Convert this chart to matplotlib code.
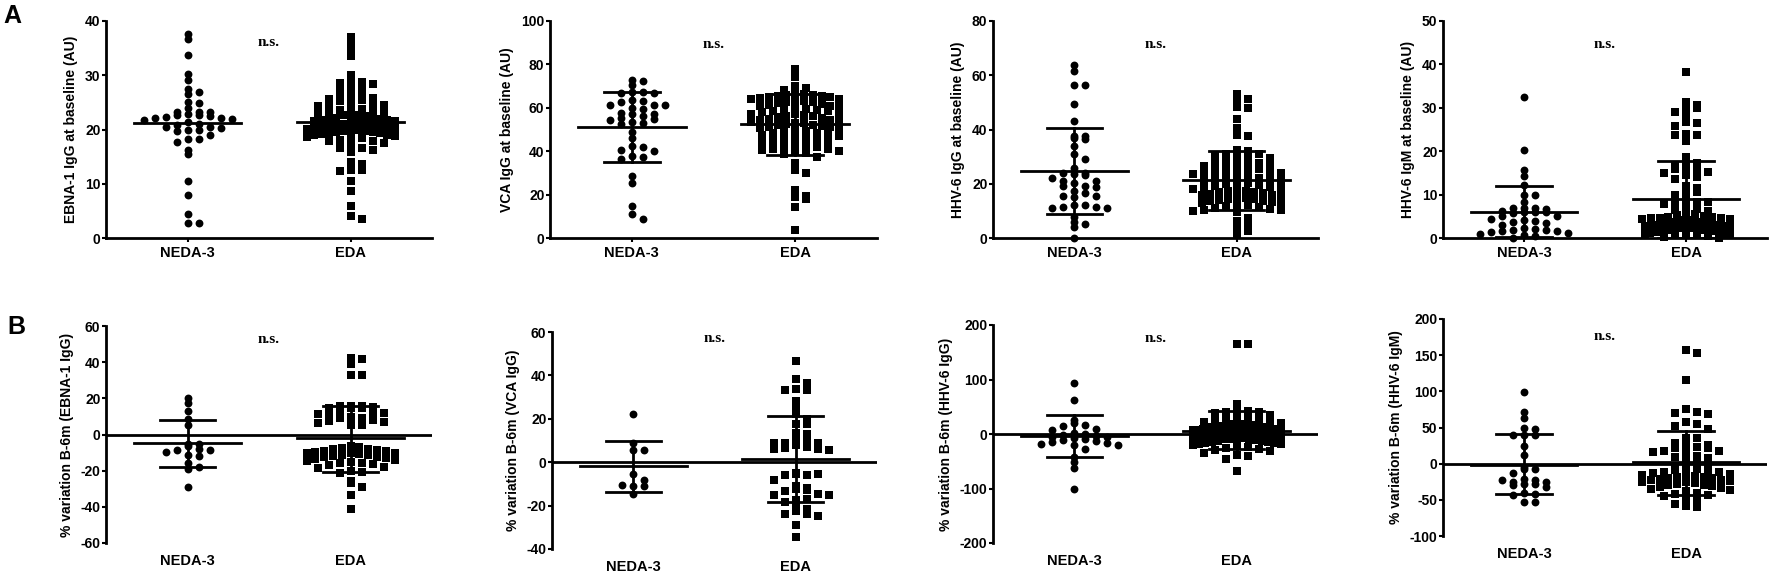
import matplotlib
matplotlib.use("Agg")
import matplotlib.pyplot as plt

plt.rcParams["font.family"] = ["Liberation Sans", "DejaVu Sans"]
plt.rcParams["font.weight"] = "bold"
plt.rcParams["axes.unicode_minus"] = False

groups = ["NEDA-3", "EDA"]

# ---- row A: baseline values ----
a1_neda = [37.6, 36.6, 33.7, 30.3, 29.2, 27.4, 27.0, 26.5, 25.0, 24.8, 23.9, 23.3, 23.3, 23.2,
           22.8, 22.6, 22.6, 22.4, 22.3, 22.2, 22.1, 21.9, 21.8, 21.3, 21.1, 20.8, 20.5, 20.4,
           20.2, 20.0, 19.9, 19.8, 18.9, 18.2, 18.2, 17.7, 16.3, 15.5, 10.5, 8.0, 4.4, 2.8, 2.7]
a1_eda = [37.0, 36.3, 34.9, 33.6, 30.0, 29.3, 28.8, 28.5, 28.4, 27.9, 27.3, 27.1, 26.9, 26.5,
          26.0, 25.8, 25.7, 25.5, 25.4, 25.2, 24.8, 24.6, 24.5, 24.3, 24.0, 23.7, 23.6, 23.4,
          23.3, 23.0, 22.9, 22.7, 22.6, 22.6, 22.4, 22.2, 22.1, 22.0, 21.9, 21.8, 21.8, 21.6,
          21.5, 21.4, 21.2, 21.1, 21.0, 20.9, 20.8, 20.7, 20.6, 20.5, 20.4, 20.3, 20.2, 20.1,
          20.0, 19.9, 19.8, 19.7, 19.6, 19.5, 19.4, 19.3, 19.1, 19.0, 18.9, 18.8, 18.7, 18.5,
          18.4, 18.1, 17.9, 17.8, 17.6, 17.2, 16.6, 16.5, 16.3, 15.8, 14.1, 13.7, 12.6, 12.5,
          12.4, 10.5, 8.6, 5.9, 4.0, 3.5]
a2_neda = [72.8, 72.3, 70.5, 67.3, 67.2, 67.0, 66.8, 63.7, 63.2, 62.8, 61.5, 61.5, 61.2, 59.8,
           59.5, 57.5, 57.2, 57.0, 56.0, 55.2, 55.0, 54.5, 53.3, 53.1, 52.6, 48.8, 46.0, 42.5,
           42.0, 40.7, 39.9, 37.6, 37.3, 36.6, 28.8, 25.5, 14.8, 11.0, 8.7]
a2_eda = [77.8, 74.5, 74.3, 70.0, 69.0, 68.0, 67.0, 66.5, 66.0, 65.8, 65.5, 65.3, 65.0, 64.8,
          64.5, 64.2, 64.0, 63.5, 63.0, 62.8, 62.5, 62.0, 61.8, 61.5, 61.0, 60.8, 60.5, 60.0,
          59.6, 59.2, 58.8, 58.5, 58.3, 58.0, 57.6, 57.3, 57.0, 56.5, 56.2, 56.0, 55.6, 55.2,
          55.0, 54.6, 54.2, 54.0, 53.6, 53.2, 53.0, 52.5, 52.2, 52.0, 51.5, 51.2, 51.0, 50.5,
          50.2, 50.0, 49.5, 49.0, 48.6, 48.2, 47.8, 47.5, 47.0, 46.5, 46.2, 45.8, 45.2, 44.8,
          44.2, 43.8, 43.2, 42.8, 42.3, 41.8, 41.2, 40.8, 40.5, 40.0, 39.5, 39.0, 38.5, 37.5,
          34.5, 31.5, 30.0, 22.0, 19.2, 18.8, 18.2, 14.5, 3.8]
a3_neda = [63.7, 61.7, 56.3, 56.3, 49.3, 43.2, 37.6, 36.7, 36.6, 37.5, 34.0, 31.0, 29.2, 25.9,
           23.9, 23.5, 23.9, 23.3, 21.0, 21.1, 22.2, 20.1, 19.1, 19.0, 18.8, 17.5, 16.5, 15.3,
           15.5, 15.2, 12.1, 12.0, 11.4, 11.3, 11.0, 10.9, 7.6, 6.0, 5.0, 3.9, 0.1]
a3_eda = [53.0, 51.3, 51.1, 48.2, 48.0, 43.8, 40.5, 38.1, 37.6, 32.3, 32.0, 31.3, 31.1, 31.0,
          30.8, 30.2, 29.5, 29.0, 28.6, 28.2, 27.8, 27.3, 27.0, 26.5, 26.2, 25.9, 25.6, 25.3,
          25.0, 24.6, 24.2, 24.0, 23.7, 23.4, 23.0, 22.6, 22.3, 22.0, 21.6, 21.3, 21.0, 20.6,
          20.2, 19.8, 19.5, 19.2, 18.9, 18.6, 18.3, 18.0, 17.8, 17.5, 17.2, 17.0, 16.8, 16.5,
          16.2, 16.0, 15.7, 15.4, 15.1, 14.8, 14.5, 14.2, 14.0, 13.7, 13.5, 13.2, 12.9, 12.6,
          12.3, 12.0, 11.7, 11.4, 11.1, 10.8, 10.5, 10.2, 9.8, 9.5, 7.3, 6.1, 5.0, 4.0, 2.5, 1.3]
a4_neda = [32.4, 20.2, 15.6, 14.3, 12.1, 10.0, 9.8, 8.3, 7.0, 6.9, 6.8, 6.6, 6.2, 6.0, 5.9,
           5.8, 5.9, 5.0, 5.0, 4.4, 4.2, 4.0, 3.8, 3.5, 3.0, 2.4, 2.0, 1.8, 1.8, 1.5, 1.5, 1.4,
           1.2, 1.0, 0.8, 0.5, 0.1]
a4_eda = [38.2, 31.4, 30.6, 30.2, 29.9, 29.0, 28.4, 26.7, 26.4, 25.9, 23.9, 23.8, 23.7, 22.4,
          18.6, 17.9, 17.3, 16.6, 16.3, 16.0, 15.8, 15.3, 15.0, 14.5, 14.0, 13.5, 12.0, 11.5,
          11.0, 10.5, 9.9, 9.2, 8.2, 8.0, 8.3, 7.8, 7.5, 6.7, 6.5, 6.2, 5.8, 5.5, 5.2, 5.0, 4.9,
          4.8, 4.7, 4.6, 4.5, 4.4, 4.4, 4.3, 4.2, 4.1, 4.0, 4.0, 3.9, 3.8, 3.8, 3.7, 3.6, 3.6,
          3.5, 3.4, 3.4, 3.3, 3.2, 3.2, 3.1, 3.0, 3.0, 2.9, 2.9, 2.8, 2.8, 2.7, 2.7, 2.6, 2.6,
          2.5, 2.5, 2.4, 2.4, 2.3, 2.3, 2.2, 2.2, 2.1, 2.1, 2.0, 2.0, 1.9, 1.9, 1.8, 1.8, 1.7,
          1.7, 1.6, 1.6, 1.5, 1.5, 1.4, 1.4, 1.3, 1.3, 1.2, 1.2, 1.1, 1.0, 1.0, 0.9, 0.8, 0.7,
          0.6, 0.5, 0.3, 0.1]

# ---- row B: % variation baseline -> 6 months ----
b1_neda = [20.0, 17.2, 13.0, 8.5, 5.2, -5.0, -5.5, -6.5, -8.0, -8.5, -8.8, -9.5, -11.5, -12.0,
           -15.5, -18.0, -19.0, -29.0]
b1_eda = [42.5, 41.8, 38.8, 33.0, 33.0, 16.0, 15.7, 15.5, 15.0, 14.8, 14.5, 14.5, 13.0, 12.5,
          12.0, 11.8, 11.5, 9.5, 9.0, 9.0, 8.0, 7.5, 6.8, 6.5, 5.5, 5.0, -6.5, -7.0, -7.5, -7.8,
          -8.0, -8.5, -9.0, -9.2, -9.5, -10.0, -10.2, -10.5, -11.0, -11.2, -11.5, -12.0, -12.2,
          -12.5, -13.0, -13.5, -14.0, -14.5, -15.0, -15.5, -16.0, -16.5, -17.0, -18.0, -18.5,
          -20.0, -21.0, -21.5, -25.5, -27.0, -29.0, -33.5, -41.0]
b2_neda = [22.0, 8.8, 5.5, 5.8, -5.5, -8.2, -10.8, -11.0, -10.5, -14.5]
b2_eda = [46.5, 38.2, 36.5, 33.7, 33.3, 33.3, 28.0, 25.5, 22.0, 20.0, 17.8, 17.5, 13.5, 13.0,
          10.5, 9.5, 8.8, 8.8, 8.8, 7.8, 7.2, 6.7, 6.2, 6.0, 5.5, -5.0, -5.5, -5.8, -5.8, -5.5,
          -8.0, -11.0, -12.5, -12.0, -12.8, -13.5, -14.5, -15.0, -15.0, -17.5, -17.0, -18.5,
          -21.0, -21.5, -22.5, -24.0, -24.0, -25.0, -29.0, -34.5]
b3_neda = [93, 62, 25, 20, 17, 14, 10, 8, 2, 0, -2, -3, -5, -6, -8, -10, -11, -12, -15, -17,
           -18, -20, -21, -28, -42, -52, -63, -100]
b3_eda = [165, 165, 55, 43, 43, 40, 40, 38, 35, 32, 30, 28, 26, 25, 24, 22, 21, 20, 19, 18, 18,
          17, 16, 15, 15, 14, 13, 12, 12, 11, 10, 10, 9, 8, 8, 7, 6, 5, 5, 4, 3, 2, 2, 1, 0, -1,
          -2, -3, -3, -4, -5, -6, -6, -7, -8, -9, -10, -10, -11, -12, -13, -14, -15, -16, -17,
          -18, -19, -20, -22, -24, -26, -28, -30, -32, -34, -38, -40, -45, -67]
b4_neda = [99, 72, 63, 50, 48, 40, 40, 40, 24, 12, -5, -8, -8, -13, -21, -23, -25, -25, -22,
           -28, -28, -30, -32, -40, -42, -44, -53, -53]
b4_eda = [157, 153, 115, 76, 71, 70, 68, 57, 55, 52, 48, 36, 36, 28, 26, 24, 23, 22, 21, 18, 17,
          16, 13, 11, 9, 8, 5, 2, -3, -5, -7, -8, -9, -10, -11, -12, -13, -14, -15, -16, -17,
          -18, -19, -20, -20, -21, -22, -23, -24, -25, -26, -27, -28, -29, -30, -31, -32, -33,
          -35, -36, -38, -40, -42, -44, -45, -48, -52, -56, -59, -60]

# mean and SD bar ends (None = no SD bar drawn)
means = [(21.2, 21.3), (51.3, 52.4), (24.8, 21.2), (6.1, 8.9),
         (-4.9, -2.2), (-1.9, 1.6), (-3.7, 6.0), (-1.8, 1.8)]
sd_hi = [None, (67.5, 66.2), (40.6, 32.2), (12.0, 17.7),
         (8.0, 16.0), (9.8, 21.5), (34.8, 42.7), (40.5, 45.6)]
sd_lo = [None, (35.2, 38.4), (9.0, 10.2), (0.2, 0.1),
         (-18.0, -20.5), (-13.6, -18.5), (-42.7, -28.0), (-42.0, -43.8)]

ylabels = ["EBNA-1 IgG at baseline (AU)", "VCA IgG at baseline (AU)",
           "HHV-6 IgG at baseline (AU)", "HHV-6 IgM at baseline (AU)",
           "% variation B-6m (EBNA-1 IgG)", "% variation B-6m (VCA IgG)",
           "% variation B-6m (HHV-6 IgG)", "% variation B-6m (HHV-6 IgM)"]
ylims = [(0, 40), (0, 100), (0, 80), (0, 50), (-60, 60), (-40, 60), (-200, 200), (-100, 200)]
ysteps = [10, 20, 20, 10, 20, 20, 100, 50]
data = [(a1_neda, a1_eda), (a2_neda, a2_eda), (a3_neda, a3_eda), (a4_neda, a4_eda),
        (b1_neda, b1_eda), (b2_neda, b2_eda), (b3_neda, b3_eda), (b4_neda, b4_eda)]
ns_y = [0.9, 0.894, 0.89, 0.89, 0.94, 0.972, 0.94, 0.92]

W, H = 1772, 576
# pixel boxes: left, top, right, bottom
boxes = [(106, 21, 432, 238), (550, 21, 877, 238), (993, 21, 1318, 238), (1443, 21, 1767, 238),
         (106, 326, 432, 543), (552, 332, 877, 549), (993, 325, 1318, 543), (1443, 319, 1767, 536)]


def swarm(vals, px_per_unit, step=11.0, row=7.5, maxk=4):
    # GraphPad-like layout: points binned into rows, spread alternately right/left
    order = [0]
    for k in range(1, 60):
        order += [k, -k]
    bins = {}
    for j, v in enumerate(vals):
        bins.setdefault(round(v * px_per_unit / row), []).append(j)
    offs = [0.0] * len(vals)
    for idx in bins.values():
        n = len(idx)
        st = step
        if n > 2 * maxk + 1:
            st = step * maxk / ((n - 1) // 2 + (n - 1) % 2)
        for p, j in enumerate(idx):
            offs[j] = order[p] * st
    return offs


fig = plt.figure(figsize=(W / 100, H / 100), dpi=100)

for i in range(8):
    l, t, r, b = boxes[i]
    ax = fig.add_axes([l / W, 1 - b / H, (r - l) / W, (b - t) / H])
    lo, hi = ylims[i]
    ax.set_xlim(-0.5, 1.5)
    ax.set_ylim(lo, hi)
    ypx = (b - t) / (hi - lo)
    xpx = (r - l) / 2.0
    for g in range(2):
        vals = data[i][g]
        offs = swarm(vals, ypx)
        xs = [g + o / xpx for o in offs]
        ax.scatter(xs, vals, s=32 if g == 0 else 28, marker="o" if g == 0 else "s",
                   color="black", linewidths=0, zorder=3, clip_on=False)
        m = means[i][g]
        ax.plot([g - 0.33, g + 0.33], [m, m], color="black", lw=2, zorder=4)
        if sd_hi[i] is not None:
            h, lw_ = sd_hi[i][g], sd_lo[i][g]
            ax.plot([g, g], [lw_, h], color="black", lw=2, zorder=4)
            ax.plot([g - 0.17, g + 0.17], [h, h], color="black", lw=2, zorder=4)
            ax.plot([g - 0.17, g + 0.17], [lw_, lw_], color="black", lw=2, zorder=4)

    ax.set_yticks(range(lo, hi + 1, ysteps[i]))
    ax.set_xticks([0, 1])
    ax.set_xticklabels(groups, fontsize=10.5, fontweight="bold")
    ax.tick_params(axis="y", labelsize=10, width=1.5, length=3, pad=1)
    for s in ["top", "right"]:
        ax.spines[s].set_visible(False)
    ax.spines["left"].set_linewidth(2)
    if i < 4:
        ax.spines["bottom"].set_linewidth(2)
        ax.tick_params(axis="x", width=1.5, length=3, pad=3)
    else:
        ax.spines["bottom"].set_visible(False)
        ax.axhline(0, color="black", lw=2, zorder=5)
        ax.tick_params(axis="x", length=0, pad=8)
    ax.set_ylabel(ylabels[i], fontsize=10, fontweight="bold", labelpad=5)
    ax.text(0.5, ns_y[i], "n.s.", transform=ax.get_xaxis_transform(), ha="center", va="center",
            family=["Liberation Serif", "DejaVu Serif"], fontsize=11, fontweight="bold")

fig.text(0.002, 1 - 4 / H, "A", fontsize=18, fontweight="bold", va="top", ha="left")
fig.text(0.004, 1 - 315 / H, "B", fontsize=18, fontweight="bold", va="top", ha="left")

fig.savefig("out.png", dpi=100)
